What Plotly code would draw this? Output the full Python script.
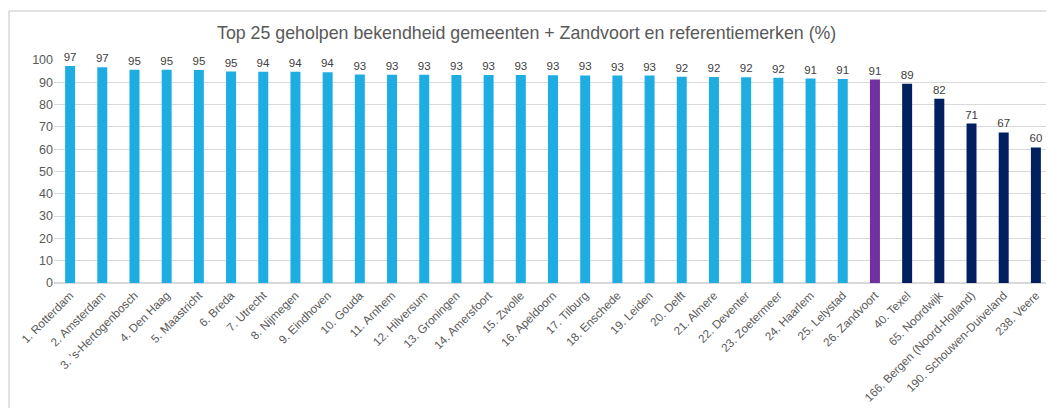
import plotly.graph_objects as go

categories = [
    "1. Rotterdam", "2. Amsterdam", "3. 's-Hertogenbosch", "4. Den Haag", "5. Maastricht",
    "6. Breda", "7. Utrecht", "8. Nijmegen", "9. Eindhoven", "10. Gouda",
    "11. Arnhem", "12. Hilversum", "13. Groningen", "14. Amersfoort", "15. Zwolle",
    "16. Apeldoorn", "17. Tilburg", "18. Enschede", "19. Leiden", "20. Delft",
    "21. Almere", "22. Deventer", "23. Zoetermeer", "24. Haarlem", "25. Lelystad",
    "26. Zandvoort", "40. Texel", "65. Noordwijk", "166. Bergen (Noord-Holland)",
    "190. Schouwen-Duiveland", "238. Veere",
]
values = [
    97.3, 96.7, 95.6, 95.6, 95.5, 94.8, 94.7, 94.7, 94.5, 93.5,
    93.4, 93.4, 93.3, 93.3, 93.3, 93.2, 93.1, 93.0, 93.0, 92.5,
    92.4, 92.3, 92.0, 91.7, 91.5, 91.2, 89.4, 82.6, 71.5, 67.5, 60.8,
]
labels = [
    "97", "97", "95", "95", "95", "95", "94", "94", "94", "93",
    "93", "93", "93", "93", "93", "93", "93", "93", "93", "92",
    "92", "92", "92", "91", "91", "91", "89", "82", "71", "67", "60",
]
groups = ["gemeente"] * 25 + ["zandvoort"] + ["referentie"] * 5
group_colors = {"gemeente": "#1EADE3", "zandvoort": "#7030A0", "referentie": "#002060"}
y_ticks = [0, 10, 20, 30, 40, 50, 60, 70, 80, 90, 100]
title = "Top 25 geholpen bekendheid gemeenten + Zandvoort en referentiemerken (%)"

colors = [group_colors[g] for g in groups]

# page has an 8px body margin, so the figure is placed at (8, 8)
W, H = 1046, 400
L, R, T, B = 46, 2, 52, 125
PW, PH = W - L - R, H - T - B

fig = go.Figure()
fig.add_trace(go.Bar(
    x=categories, y=values, text=labels, textposition="outside",
    constraintext="none",
    textfont=dict(size=11.5, color="#404040", family="Liberation Sans, Arial"),
    marker=dict(color=colors, line=dict(width=0)),
    cliponaxis=False, hoverinfo="skip",
))

fig.update_layout(
    width=W, height=H,
    margin=dict(l=L, r=R, t=T, b=B, autoexpand=False),
    paper_bgcolor="white", plot_bgcolor="white",
    bargap=0.69,
    showlegend=False,
    font=dict(family="Liberation Sans, Arial", color="#595959"),
)
fig.add_annotation(
    text=title, xref="paper", yref="paper",
    x=(518 - L) / PW, y=(H - B - 25) / PH, xanchor="center", yanchor="middle",
    showarrow=False, font=dict(size=17.8, color="#595959"),
)
fig.update_xaxes(
    tickangle=-45, tickfont=dict(size=11.7, color="#595959"),
    showgrid=False, showline=True, linecolor="#d9d9d9", linewidth=1,
    ticks="", fixedrange=True, automargin=False,
)
fig.update_yaxes(
    range=[0, 100], tickvals=y_ticks, tickfont=dict(size=12.5, color="#595959"),
    showgrid=True, gridcolor="#d9d9d9", gridwidth=1,
    zeroline=True, zerolinecolor="#d9d9d9", showline=False,
    ticks="", fixedrange=True, automargin=False,
)

# chart frame (left and top edges visible)
fx = (1 - L) / PW
fy = (H - B - 3) / PH
fig.add_shape(type="line", xref="paper", yref="paper",
              x0=fx, x1=fx, y0=-0.7, y1=fy,
              line=dict(color="#d9d9d9", width=1.5))
fig.add_shape(type="line", xref="paper", yref="paper",
              x0=fx, x1=1.01, y0=fy, y1=fy,
              line=dict(color="#d9d9d9", width=1.5))

fig.write_html("out.html")
